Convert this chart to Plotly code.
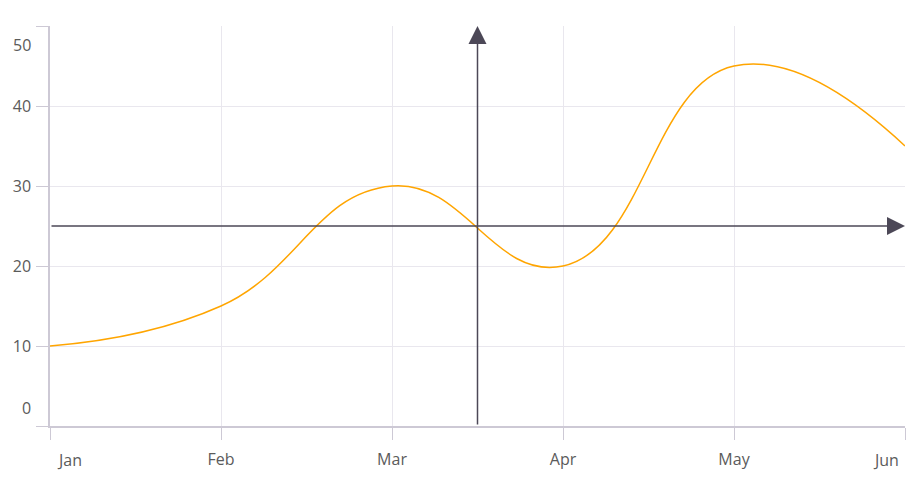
import plotly.graph_objects as go

months = ["Jan", "Feb", "Mar", "Apr", "May", "Jun"]
values = [10, 15, 30, 20, 45, 35]
y_ticks = [0, 10, 20, 30, 40, 50]
crosshair_x = 2.5
crosshair_y = 25

FONT = "Segoe UI, Open Sans, sans-serif"
FSIZE = 16
TEXT_COLOR = "#5b5b5b"
GRID = "#e9e7ee"
AXIS = "#cdc9d5"
CROSS = "#4c4857"

x_idx = list(range(len(months)))

fig = go.Figure()
fig.add_trace(go.Scatter(
    x=x_idx, y=values, mode="lines",
    line=dict(color="#FFA500", width=1.5, shape="spline", smoothing=1.3),
    hoverinfo="skip", showlegend=False,
))

# inner tick labels via axis; edge labels shifted inward as annotations
x_ticktext = [""] + months[1:-1] + [""]
y_ticktext = [""] + [str(v) for v in y_ticks[1:-1]] + [""]

fig.update_xaxes(
    range=[0, len(months) - 1], tickvals=x_idx, ticktext=x_ticktext,
    showgrid=True, gridcolor=GRID, gridwidth=1,
    showline=True, linecolor=AXIS, linewidth=1.5,
    ticks="outside", ticklen=12, tickcolor=AXIS, tickwidth=1,
    tickfont=dict(family=FONT, size=FSIZE, color=TEXT_COLOR),
    ticklabelstandoff=6,
    zeroline=False, fixedrange=True, automargin=False,
)
fig.update_yaxes(
    range=[y_ticks[0], y_ticks[-1]], tickvals=y_ticks, ticktext=y_ticktext,
    showgrid=True, gridcolor=GRID, gridwidth=1,
    showline=True, linecolor=AXIS, linewidth=1.5,
    ticks="outside", ticklen=12, tickcolor=AXIS, tickwidth=1,
    tickfont=dict(family=FONT, size=FSIZE, color=TEXT_COLOR),
    ticklabelstandoff=2,
    zeroline=False, fixedrange=True, automargin=False,
)

ann_font = dict(family=FONT, size=FSIZE, color=TEXT_COLOR)
annotations = [
    dict(text=str(y_ticks[0]), xref="paper", x=0, yref="y", y=y_ticks[0],
         xanchor="right", yanchor="middle", xshift=-17, yshift=18,
         showarrow=False, font=ann_font),
    dict(text=str(y_ticks[-1]), xref="paper", x=0, yref="y", y=y_ticks[-1],
         xanchor="right", yanchor="middle", xshift=-17, yshift=-19,
         showarrow=False, font=ann_font),
    dict(text=months[0], xref="x", x=x_idx[0], yref="paper", y=0,
         xanchor="center", yanchor="middle", xshift=19, yshift=-34,
         showarrow=False, font=ann_font),
    dict(text=months[-1], xref="x", x=x_idx[-1], yref="paper", y=0,
         xanchor="center", yanchor="middle", xshift=-19, yshift=-34,
         showarrow=False, font=ann_font),
    # crosshair arrows
    dict(x=crosshair_x, y=y_ticks[-1], ax=crosshair_x, ay=y_ticks[0],
         xref="x", yref="y", axref="x", ayref="y", text="",
         showarrow=True, arrowhead=2, arrowsize=2.4, arrowwidth=1.5,
         arrowcolor=CROSS),
    dict(x=x_idx[-1], y=crosshair_y, ax=x_idx[0], ay=crosshair_y,
         xref="x", yref="y", axref="x", ayref="y", text="",
         showarrow=True, arrowhead=2, arrowsize=2.4, arrowwidth=1.5,
         arrowcolor=CROSS),
]

# the page body adds an 8px offset, so margins compensate for it
fig.update_layout(
    width=919, height=483,
    margin=dict(l=42, r=22, t=18, b=65, autoexpand=False),
    paper_bgcolor="white", plot_bgcolor="white",
    annotations=annotations,
    showlegend=False,
)

fig.write_html("out.html", config={"displayModeBar": False})
